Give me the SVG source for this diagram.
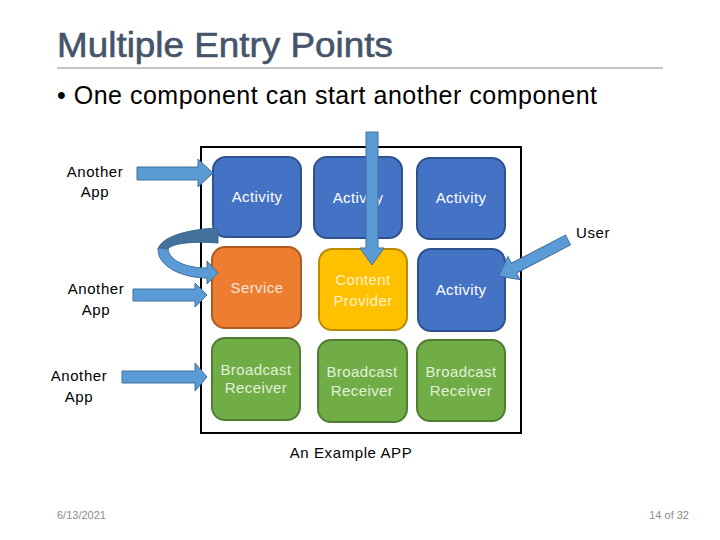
<svg xmlns="http://www.w3.org/2000/svg" width="720" height="540" viewBox="0 0 720 540">
<defs>
<style>
.t{font-family:"Liberation Sans",Arial,sans-serif}
.lbl{font-family:"Liberation Sans",Arial,sans-serif;font-size:15px;fill:#000;text-anchor:middle;letter-spacing:0.6px}
.nt{font-family:"Liberation Sans",Arial,sans-serif;font-size:15px;text-anchor:middle;letter-spacing:0.4px}
.act rect{fill:#4472c4;stroke:#2f528f;stroke-width:2}
.act text{fill:#ffffff}
.svc rect{fill:#ed7d31;stroke:#ae5a21;stroke-width:2}
.svc text{fill:#fbe5d6}
.cp rect{fill:#ffc000;stroke:#bc8c00;stroke-width:2}
.cp text{fill:#fff2cc}
.br rect{fill:#70ad47;stroke:#507e32;stroke-width:2}
.br text{fill:#e2f0d9}
.arr{fill:#5b9bd5;stroke:#41719c;stroke-width:1}
.arrd{fill:#41719c;stroke:#3a6690;stroke-width:1}
.foot{font-family:"Liberation Sans",Arial,sans-serif;font-size:11px;fill:#8c8c8c}
</style>
</defs>
<rect width="720" height="540" fill="#ffffff"/>
<g id="title">
<text class="t" x="57" y="57" font-size="35" fill="#44546a" stroke="#44546a" stroke-width="0.6" textLength="336" lengthAdjust="spacingAndGlyphs">Multiple Entry Points</text>
<line x1="57" y1="68" x2="663" y2="68" stroke="#8c8c8c" stroke-width="1"/>
<text class="t" x="57" y="104" font-size="25" fill="#000" textLength="540">• One component can start another component</text>
</g>
<g id="app-frame">
<rect x="201" y="147" width="320" height="286" fill="#ffffff" stroke="#000" stroke-width="2"/>
<text class="lbl" x="351" y="458" letter-spacing="0">An Example APP</text>
</g>
<g id="n-activity1" class="act"><rect x="213" y="157" width="88" height="80" rx="13"/><text class="nt" x="257" y="202">Activity</text></g>
<g id="n-activity2" class="act"><rect x="314" y="157" width="88" height="81" rx="13"/><text class="nt" x="358" y="203">Activity</text></g>
<g id="n-activity3" class="act"><rect x="417" y="158" width="88" height="81" rx="13"/><text class="nt" x="461" y="203">Activity</text></g>
<g id="n-service" class="svc"><rect x="212" y="247" width="89" height="81" rx="13"/><text class="nt" x="257" y="293">Service</text></g>
<g id="n-provider" class="cp"><rect x="319" y="249" width="88" height="81" rx="13"/><text class="nt" x="363" y="285">Content</text><text class="nt" x="363" y="306">Provider</text></g>
<g id="n-activity4" class="act"><rect x="418" y="249" width="87" height="82" rx="13"/><text class="nt" x="461" y="295">Activity</text></g>
<g id="n-receiver1" class="br"><rect x="212" y="338" width="88" height="82" rx="13"/><text class="nt" x="256" y="375">Broadcast</text><text class="nt" x="256" y="393">Receiver</text></g>
<g id="n-receiver2" class="br"><rect x="318" y="340" width="89" height="82" rx="13"/><text class="nt" x="362" y="377">Broadcast</text><text class="nt" x="362" y="396">Receiver</text></g>
<g id="n-receiver3" class="br"><rect x="417" y="340" width="88" height="81" rx="13"/><text class="nt" x="461" y="377">Broadcast</text><text class="nt" x="461" y="396">Receiver</text></g>
<g id="src-app1"><text class="lbl" x="95" y="177">Another</text><text class="lbl" x="95" y="197">App</text></g>
<g id="src-app2"><text class="lbl" x="96" y="294">Another</text><text class="lbl" x="96" y="315">App</text></g>
<g id="src-app3"><text class="lbl" x="79" y="381">Another</text><text class="lbl" x="79" y="402">App</text></g>
<g id="src-user"><text class="lbl" x="593" y="238" letter-spacing="0">User</text></g>
<g id="connectors">
<polygon class="arr" points="137,167 198,167 198,159 213,173 198,187 198,180 137,180"/>
<polygon class="arr" points="133,289 195,289 195,283 207,295 195,307 195,301 133,301"/>
<polygon class="arr" points="122,371 195,371 195,363 207,377 195,391 195,383 122,383"/>
<polygon class="arr" points="366,132 378,132 378,248 384,248 372,265 360,248 366,248"/>
<polygon class="arr" transform="translate(568,240) rotate(152.5)" points="0,-5.5 61,-5.5 61,-13 78,0 61,13 61,5.5 0,5.5"/>
<path class="arrd" d="M 218 228 C 190 229 162 236 158 249 L 168 249 C 172 243 195 241 218 243 Z"/>
<path class="arr" d="M 158 248 C 157 268 185 278 207 278 L 207 284 L 218 273 L 207 261 L 207 268 C 188 268 170 262 168 249 Z"/>
</g>
<g id="footer">
<text class="foot" x="57" y="519">6/13/2021</text>
<text class="foot" x="689" y="519" text-anchor="end">14 of 32</text>
</g>
</svg>
